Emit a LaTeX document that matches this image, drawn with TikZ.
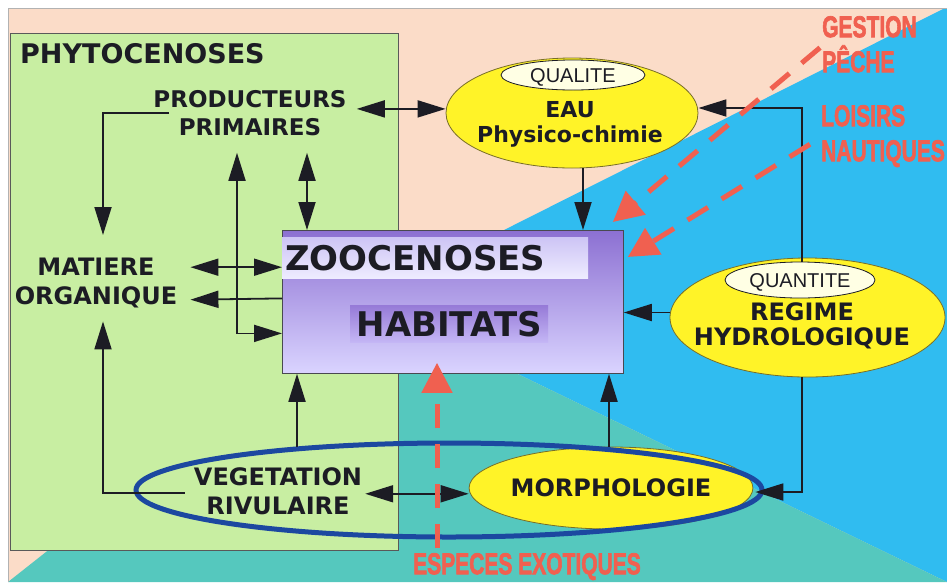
\documentclass[tikz,border=0pt]{standalone}
\usepackage{fontspec}
\setmainfont{DejaVu Sans}
\newfontfamily\arialfont{Liberation Sans}
\newfontfamily\redfont[BoldFeatures={FakeBold=2.5}]{Liberation Sans}
\usetikzlibrary{positioning}
\usetikzlibrary{calc}
\usetikzlibrary{arrows.meta}
\usetikzlibrary{shapes.geometric}
\definecolor{peachbg}{RGB}{251,220,200}
\definecolor{skybg}{RGB}{48,188,240}
\definecolor{lagoonbg}{RGB}{85,200,190}
\definecolor{leafbg}{RGB}{200,238,162}
\definecolor{sunbg}{RGB}{255,243,40}
\definecolor{creambg}{RGB}{255,255,228}
\definecolor{ringblue}{RGB}{28,72,160}
\definecolor{ink}{RGB}{28,28,36}
\definecolor{redtxt}{RGB}{240,96,80}
\definecolor{violettop}{RGB}{140,112,210}
\definecolor{violetbot}{RGB}{218,212,255}
\definecolor{bandtop}{RGB}{205,196,245}
\definecolor{bandbot}{RGB}{238,236,255}
\definecolor{habtop}{RGB}{150,122,215}
\definecolor{habbot}{RGB}{196,182,245}
\definecolor{bubbleline}{RGB}{120,110,40}
\newcommand{\fs}[2]{\fontsize{#1}{#2}\selectfont\bfseries}
\newcommand{\narrowtxt}[1]{\scalebox{0.7}[1]{#1}}

\begin{document}
\begin{tikzpicture}[x=1pt, y=-1pt,
    txt/.style={text=ink, inner sep=0pt},
    arr/.style={draw=ink, line width=1.8pt, -{Triangle[length=28pt,width=17pt]}},
    dbl/.style={draw=ink, line width=1.8pt, {Triangle[length=28pt,width=17pt]}-{Triangle[length=28pt,width=17pt]}},
    redarr/.style={draw=redtxt, line width=5pt, dash pattern=on 24pt off 16pt, -{Triangle[length=30pt,width=30pt]}},
    bubble/.style={ellipse, draw=bubbleline, fill=sunbg, line width=0.8pt, inner sep=0pt},
    tag/.style={ellipse, draw=ink, fill=creambg, line width=0.8pt, inner sep=0pt, text=ink,
        font=\arialfont\fontsize{20}{20}\selectfont, text height=14.3pt, text depth=0pt},
    redlbl/.style={text=redtxt, font=\redfont\bfseries\fontsize{30}{35}\selectfont, inner sep=0pt, align=left}]

    \useasboundingbox (0,0) rectangle (947,582);
    \fill[white] (0,0) rectangle (947,582);

    % background
    \fill[peachbg] (8,8) rectangle (947,582);
    \coordinate (c) at (365,300);
    \fill[skybg] (c) -- (945,8) -- (947,8) -- (947,582) -- cycle;
    \fill[lagoonbg] (c) -- (947,582) -- (8,582) -- cycle;
    \draw[gray!60, line width=1pt] (947,8) -- (8,8) -- (8,582);

    \node[draw=gray!70!black, fill=leafbg, line width=0.8pt, minimum width=388, minimum height=517,
        anchor=north west, inner sep=0pt] (phytobox) at (10,33) {};
    \node[txt, anchor=north west, font=\fs{27}{27}] (phyto) at (20,43) {PHYTOCENOSES};

    % zoocenoses box
    \node[draw=ink!80, line width=0.8pt, top color=violettop, bottom color=violetbot,
        minimum width=341, minimum height=143, anchor=north west, inner sep=0pt] (zoo) at (282,230) {};
    \node[txt, anchor=north west, top color=bandtop, bottom color=bandbot, minimum width=306, minimum height=41,
        font=\fs{34}{34}, text height=24.8pt, text depth=0pt, text width=300pt, align=left] (zootxt) at (282,237) {ZOOCENOSES};
    \node[txt, anchor=north west, top color=habtop, bottom color=habbot, minimum width=198, minimum height=37,
        font=\fs{34}{34}, text height=24.8pt, text depth=0pt] (habtxt) at (350,305) {HABITATS};

    % ellipses
    \node[bubble, minimum width=252, minimum height=110] (eau) at (572,113) {};
    \node[tag, minimum width=144, minimum height=30] (qualite) at (573,75) {QUALITE};
    \node[txt, anchor=north, align=center, font=\fs{22}{25}] (eautxt) at (570,101) {EAU\\Physico-chimie};

    \node[bubble, minimum width=275, minimum height=119] (regime) at (807.5,317.5) {};
    \node[tag, minimum width=150, minimum height=36] (quantite) at (800,280) {QUANTITE};
    \node[txt, anchor=north, align=center, font=\fs{24}{25}] (regtxt) at (802,302) {REGIME\\HYDROLOGIQUE};

    \node[bubble, minimum width=232, minimum height=82, text=ink, font=\fs{24}{24},
        text height=17.5pt, text depth=0pt] (morph) at (611,488) {MORPHOLOGIE};
    \node[ellipse, draw=ringblue, line width=5pt, minimum width=626, minimum height=94, inner sep=0pt] (ring) at (449,490) {};

    % labels
    \node[txt, anchor=north, align=center, font=\fs{23}{28}] (prod) at (250,90) {PRODUCTEURS\\PRIMAIRES};
    \node[txt, anchor=north, align=center, font=\fs{24}{29}] (matiere) at (96,258) {MATIERE\\ORGANIQUE};
    \node[txt, anchor=north, align=center, font=\fs{24}{29}] (veg) at (278,467) {VEGETATION\\RIVULAIRE};

    % links
    \draw[dbl] ($(prod.east)+(10,-4)$) coordinate (p1) -- (p1 -| eau.west);
    \draw[arr] ($(prod.west)+(16,0)$) -| ($(matiere.north)+(7,-23)$);
    \draw[dbl] ($(prod.south)+(-13,17)$) |- ($(zoo.west)+(0,31.5)$);
    \draw[dbl] ($(prod.south)+(57,17)$) coordinate (p2) -- (p2 |- zoo.north);
    \draw[dbl] ($(matiere.east)+(13,-16)$) coordinate (m1) -- (m1 -| zoo.west);
    \draw[arr] ($(zoo.west)+(0,-3.5)$) -- ($(matiere.east)+(13,16.5)$);
    \draw[arr] ($(eau.south)+(11,0)$) coordinate (e1) -- (e1 |- zoo.north);
    \draw[arr] ($(quantite.north)+(2,0)$) |- ($(eau.east)+(0,-5)$);
    \draw[arr] ($(regime.west)+(0,-5)$) coordinate (r1) -- (r1 -| zoo.east);
    \draw[arr] ($(regime.south)+(-5.5,0)$) |- ($(morph.east)+(2,4)$);
    \draw[arr] ($(morph.north)+(-2,0)$) coordinate (mo) -- (mo |- zoo.south);
    \draw[dbl] ($(veg.east)+(3,3)$) coordinate (v1) -- (v1 -| morph.west);
    \draw[arr] ($(veg.north)+(19,-20)$) coordinate (v2) -- (v2 |- zoo.south);
    \draw[arr] ($(veg.west)+(-9,2)$) -| ($(matiere.south)+(7,13)$);

    % pressures
    \node[redlbl, anchor=north west] (gestion) at (822,16) {\narrowtxt{GESTION}\\\narrowtxt{PÊCHE}};
    \node[redlbl, anchor=north west] (loisirs) at (821,105) {\narrowtxt{LOISIRS}\\\narrowtxt{NAUTIQUES}};
    \node[redlbl, anchor=north west] (especes) at (413,553) {\narrowtxt{ESPECES EXOTIQUES}};
    \draw[redarr] ($(gestion.south west)+(-2,-25)$) -- ($(zoo.north east)+(-11,-8)$);
    \draw[redarr] ($(loisirs.south west)+(-11,-23)$) -- ($(zoo.north east)+(4,27)$);
    \draw[redarr] ($(especes.north west)+(24,-5)$) coordinate (x1) -- ($(x1 |- zoo.south)+(0,-11)$);
\end{tikzpicture}
\end{document}
